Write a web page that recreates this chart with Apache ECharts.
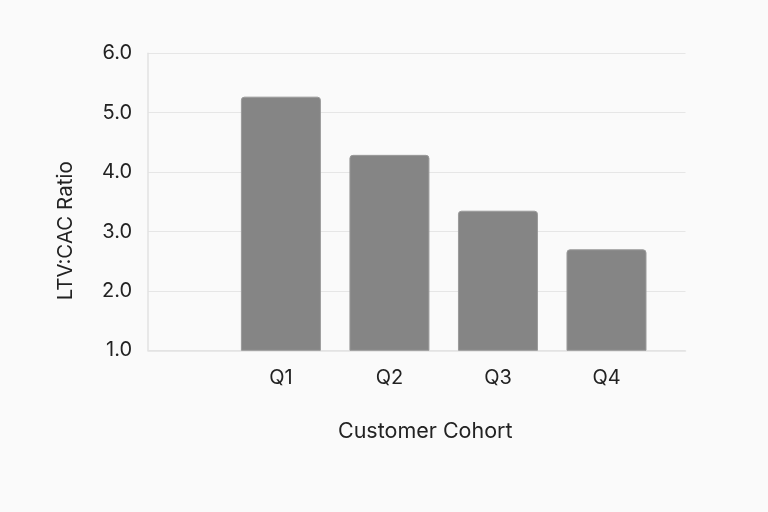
<!DOCTYPE html>
<html>
<head>
<meta charset="utf-8">
<script src="https://cdn.jsdelivr.net/npm/echarts@6/dist/echarts.min.js"></script>
<style>
html,body{margin:0;padding:0;background:#fafafa;}
#chart{width:768px;height:512px;}
</style>
</head>
<body>
<div id="chart"></div>
<script>
const categories = ['Q1', 'Q2', 'Q3', 'Q4'];
const ltvCacRatio = [5.27, 4.29, 3.35, 2.70];
const yTicks = [1, 2, 3, 4, 5, 6];

const chart = echarts.init(document.getElementById('chart'), null, {renderer: 'canvas'});
const font = 'Inter, "Noto Sans", sans-serif';
chart.setOption({
  backgroundColor: '#fafafa',
  animation: false,
  grid: {left: 148, right: 82.5, top: 53.3, bottom: 161.7},
  xAxis: {
    type: 'value',
    min: -1.2246,
    max: 3.728,
    name: 'Customer Cohort',
    nameLocation: 'middle',
    nameGap: 70,
    nameTextStyle: {fontFamily: font, fontSize: 21.5, color: '#222', padding: [0, 0, 0, 17]},
    axisLine: {show: true, onZero: false, lineStyle: {color: '#e2e2e2', width: 1.5}},
    axisTick: {show: false},
    splitLine: {show: false},
    axisLabel: {
      customValues: categories.map((c, i) => i),
      formatter: v => categories[Math.round(v)] || '',
      fontFamily: font, fontSize: 20, color: '#222', margin: 18
    }
  },
  yAxis: {
    type: 'value',
    min: yTicks[0],
    max: yTicks[yTicks.length - 1],
    interval: 1,
    name: 'LTV:CAC Ratio',
    nameLocation: 'middle',
    nameGap: 72,
    nameTextStyle: {fontFamily: font, fontSize: 20.5, color: '#222', padding: [0, 58, 0, 0]},
    axisLine: {show: true, onZero: false, lineStyle: {color: '#e2e2e2', width: 1.5}},
    axisTick: {show: false},
    splitLine: {show: true, lineStyle: {color: '#e6e6e6', width: 1.2}},
    axisLabel: {
      formatter: v => v.toFixed(1),
      fontFamily: font, fontSize: 20, color: '#222', margin: 16
    }
  },
  series: [{
    type: 'bar',
    data: ltvCacRatio.map((v, i) => [i, v]),
    barWidth: 80,
    itemStyle: {color: '#858585', borderColor: '#9a9a9a', borderWidth: 1, borderRadius: [3, 3, 0, 0]}
  }]
});
</script>
</body>
</html>
